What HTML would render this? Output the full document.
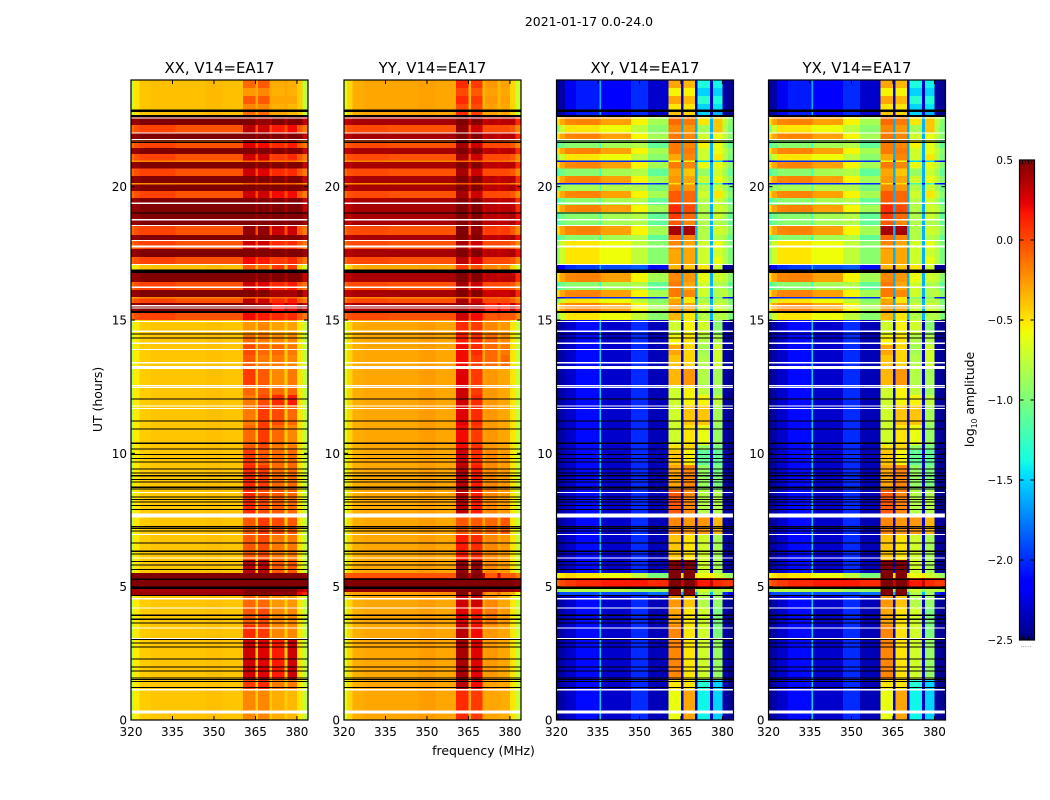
<!DOCTYPE html>
<html>
<head>
<meta charset="utf-8">
<title>2021-01-17 cross-correlation amplitude</title>
<style>
html,body{margin:0;padding:0;background:#fff;}
svg{display:block;font-family:"DejaVu Sans","Liberation Sans",sans-serif;fill:#000;}
.t{font-size:12px;}
.title{font-size:14.9px;text-anchor:middle;}
</style>
</head>
<body>
<svg id="fig" width="1050" height="800" viewBox="0 0 1050 800" xmlns="http://www.w3.org/2000/svg">
<rect width="1050" height="800" fill="#fff"/>
<text x="589" y="26" text-anchor="middle" style="font-size:12.45px">2021-01-17 0.0-24.0</text>
<text x="483.5" y="755" text-anchor="middle" style="font-size:12.45px">frequency (MHz)</text>
<text transform="translate(102,399.5) rotate(-90)" text-anchor="middle" style="font-size:12.45px">UT (hours)</text>
<text transform="translate(974,399.5) rotate(-90)" text-anchor="middle" style="font-size:12.45px">log<tspan dy="3" style="font-size:7.5px">10</tspan><tspan dy="-3"> amplitude</tspan></text>
</svg>
<script>
// Frequency bin edges (MHz), shared by every panel
const freqEdges = [320,321,323,327,335.5,336,347,353,360.5,365,366,370,371,375.5,376.5,380,382,384];
// Tick labels
const xTicks = [320,335,350,365,380];
const yTicks = [0,5,10,15,20];
const cbarTicks = [-2.5,-2,-1.5,-1,-0.5,0,0.5];
// Time-row upper edges (UT hours), top to bottom; last entry is the lower edge
const rowTopUT = [24,23.7,23.4,23.1,22.8,22.65,22.31,22.01,21.75,21.45,21.23,20.98,20.93,20.68,20.4,20.14,20.08,19.84,19.58,19.31,19.05,18.79,18.53,18.19,18,17.66,17.36,17.1,16.8,16.43,16.13,15.86,15.81,15.64,15.3,15,14.44,14.06,13.69,13.28,12.56,12.19,11.81,11.06,10.31,10.13,9.56,8.63,7.69,6.94,6,5.51,5.33,5.21,4.99,4.8,4.65,4.24,3.56,3,1.5,1.16,0];
// Row class per time row: 0 quiet top,1 deep stripe,2 mid stripe,3 thin line,4 bright stripe,5 day,6-8 flare,9 deep alt,10 flare end,11 warm stripe
const kindsParallel = [0,0,0,0,0,1,2,1,2,1,2,3,1,2,1,3,9,2,1,1,9,9,2,9,2,9,2,4,1,2,1,3,2,1,2,5,5,5,5,5,5,5,5,5,5,5,5,5,5,5,5,6,7,7,8,10,5,5,5,5,5,5];
const kindsCross = [0,0,0,0,0,1,11,1,2,1,11,3,1,2,1,3,9,1,2,1,2,2,1,2,11,11,11,4,1,2,1,3,11,1,11,5,5,5,5,5,5,5,5,5,5,5,5,5,5,5,5,6,7,7,8,10,5,5,5,5,5,5];
// Continuum levels per row class: 320-321,321-323,323-327,327-335.5,335.5-336,336-347,347-353,353-360.5,gaps,380-382,382-384
const contXX = [
[-.75,-.5,-.4,-.38,-.38,-.38,-.36,-.38,-.3,-.42,-.75],
[.45,.45,.5,.5,.5,.5,.5,.5,.4,.5,.3],
[-.1,-.02,.02,.02,.02,-.03,-.03,-.03,0,-.05,-.15],
[-.3,-.25,-.2,-.2,-.2,-.2,-.2,-.2,-.15,-.2,-.3],
[-.7,-.5,-.4,-.38,-.38,-.38,-.36,-.38,-.35,-.45,-.7],
[-.75,-.52,-.42,-.4,-.4,-.4,-.38,-.4,-.42,-.5,-.75],
[.5,.5,.5,.5,.5,.5,.5,.5,.5,.5,.45],
[.5,.5,.5,.5,.5,.5,.5,.5,.5,.5,.5],
[.4,.4,.4,.4,.4,.4,.4,.4,.5,.35,.3],
[.45,.45,.5,.5,.5,.5,.5,.5,.45,.5,.4],
[.4,.42,.42,.42,.42,.42,.42,.42,.5,.2,.1]
];
const contYY = [
[-.65,-.45,-.32,-.3,-.3,-.3,-.28,-.3,-.35,-.45,-.7],
[.3,.35,.4,.4,.4,.4,.4,.4,.3,.35,.1],
[-.1,-.02,0,0,0,-.03,-.03,-.03,0,-.05,-.2],
[-.3,-.25,-.2,-.2,-.2,-.2,-.2,-.2,-.15,-.2,-.3],
[-.6,-.45,-.32,-.3,-.3,-.3,-.28,-.3,-.3,-.45,-.7],
[-.65,-.45,-.32,-.3,-.3,-.3,-.27,-.3,-.3,-.5,-.72],
[-.05,-.05,-.03,-.03,-.03,-.03,-.03,-.03,.3,-.05,-.15],
[.5,.5,.5,.5,.5,.5,.5,.5,.5,.5,.45],
[.45,.45,.45,.45,.45,.45,.45,.45,.5,.45,.4],
[.35,.35,.4,.4,.4,.4,.4,.4,.3,.4,.2],
[-.4,-.32,-.28,-.28,-.28,-.28,-.25,-.22,-.1,-.35,-.6]
];
const contXY = [
[-2.45,-2.4,-2.2,-2.05,-1.6,-2.15,-2,-2.3,-2.3,-2.4,-2.45],
[-.5,-.3,-.2,-.18,-.22,-.28,-.55,-.85,-1.6,-.75,-.95],
[-1.2,-1.05,-.95,-.95,-1.2,-.85,-.8,-1.1,-1.6,-.85,-1.1],
[-2.2,-2.1,-2,-2,-2,-2,-2,-2,-2.2,-2,-2.2],
[-2.3,-2.15,-2,-1.95,-1.6,-1.9,-1.85,-2.1,-2.3,-2.4,-2.45],
[-2.45,-2.4,-2.3,-2.1,-1.5,-2.3,-2,-2.35,-2.3,-2.4,-2.45],
[-.6,-.5,-.45,-.5,-.6,-.6,-.75,-1,-.5,-.8,-.9],
[-.1,0,.05,.1,.1,.15,.15,.1,.3,.05,.05],
[-.9,-.85,-.8,-.8,-.8,-.8,-.9,-.9,-1,-.8,-.8],
[-1.05,-.9,-.85,-.85,-1.1,-.8,-.8,-1,-1.6,-.85,-1.05],
[-2,-1.9,-1.9,-1.9,-1.6,-1.9,-1.9,-1.8,-1.6,-2,-2.2],
[-.95,-.7,-.5,-.5,-.6,-.58,-.75,-.95,-1.6,-.8,-1]
];
const contYX = [
[-2.45,-2.4,-2.2,-2.05,-1.6,-2.15,-2,-2.3,-2.3,-2.4,-2.45],
[-.5,-.3,-.2,-.18,-.22,-.28,-.55,-.85,-1.6,-.75,-.95],
[-1.2,-1.05,-.95,-.95,-1.2,-.85,-.8,-1.1,-1.6,-.85,-1.1],
[-2.2,-2.1,-2,-2,-2,-2,-2,-2,-2.2,-2,-2.2],
[-2.3,-2.15,-2,-1.95,-1.6,-1.9,-1.85,-2.1,-2.3,-2.4,-2.45],
[-2.45,-2.4,-2.3,-2.1,-1.5,-2.3,-2,-2.35,-2.3,-2.4,-2.45],
[-.6,-.5,-.45,-.5,-.6,-.6,-.75,-1,-.5,-.8,-.9],
[-.1,0,.05,.1,.1,.15,.15,.1,.3,.05,.05],
[-.9,-.85,-.8,-.8,-.8,-.8,-.9,-.9,-1,-.8,-.8],
[-1.05,-.9,-.85,-.85,-1.1,-.8,-.8,-1,-1.6,-.85,-1.05],
[-2,-1.9,-1.9,-1.9,-1.6,-1.9,-1.9,-1.8,-1.6,-2,-2.2],
[-.95,-.7,-.5,-.5,-.6,-.58,-.75,-.95,-1.6,-.8,-1]
];
// Bright-band levels per time row: 360.5-365, 366-370, 371-375.5, 376.5-380
const bandsXX = [
[-.1,-.05,-.32,-.32],[-.25,-.2,-.33,-.33],[-.05,-.05,-.3,-.3],[-.2,-.2,-.33,-.35],[-.1,-.1,-.3,-.35],
[.5,.45,.5,.5],[.35,.3,.15,.2],[.5,.5,.5,.5],[.25,.2,.1,.15],[.5,.5,.5,.5],[.3,.3,.05,.1],[-.1,-.1,-.15,-.15],
[.5,.5,.5,.5],[.3,.25,.1,.1],[.5,.5,.5,.5],[-.05,-.05,-.1,-.1],[.5,.5,.5,.5],[.3,.3,.2,.2],[.5,.5,.5,.5],[.5,.5,.5,.5],
[.5,.5,.5,.5],[.5,.5,.5,.5],[.45,.45,.3,.3],[.5,.5,.5,.5],[.3,.3,.1,.1],[.5,.5,.5,.5],[.2,.15,.05,.1],[-.05,-.1,.05,.05],
[.5,.5,.5,.5],[.3,.25,.1,.15],[.5,.5,.4,.4],[-.1,-.1,-.1,-.1],[.35,.3,.1,.15],[.45,.4,.2,.25],[.2,.15,.1,.1],
[-.25,-.2,-.28,-.28],[-.1,-.15,-.2,-.2],[0,-.1,-.1,-.15],[-.05,-.15,-.15,-.2],[.05,-.05,-.2,-.15],[-.1,-.05,-.1,-.1],
[-.15,0,.1,.15],[-.15,.05,0,-.1],[-.1,.05,-.1,-.2],[-.05,0,-.15,-.15],[.05,-.05,-.1,-.1],[.1,.05,-.1,-.1],[.1,0,-.05,-.1],
[-.05,.05,0,-.05],[-.05,0,-.15,-.15],[.35,.35,-.05,-.05],[.5,.5,.5,.5],[.5,.5,.5,.5],[.5,.5,.5,.5],[.5,.5,.5,.5],[.5,.5,.45,.45],
[-.1,-.1,-.25,-.25],[-.05,0,-.2,-.2],[.1,.05,-.2,-.2],[.3,.25,.15,.3],[.05,.1,-.15,-.15],[-.2,-.2,-.32,-.35]
];
const bandsYY = [
[.1,.05,-.25,-.28],[0,-.05,-.28,-.3],[.1,.05,-.25,-.28],[0,0,-.28,-.3],[.1,.05,-.28,-.3],
[.5,.5,.35,.35],[.45,.3,0,0],[.5,.5,.35,.35],[.4,.3,0,0],[.5,.5,.35,.35],[.4,.3,0,0],[-.1,-.1,-.15,-.15],
[.5,.5,.35,.35],[.4,.3,0,0],[.5,.5,.35,.35],[-.05,-.05,-.1,-.1],[.5,.5,.35,.35],[.4,.3,0,0],[.5,.5,.35,.35],[.5,.5,.35,.35],
[.5,.5,.35,.35],[.5,.5,.35,.35],[.5,.45,.05,.05],[.5,.5,.35,.35],[.4,.3,0,0],[.5,.5,.35,.35],[.35,.25,0,0],[.05,0,-.2,-.2],
[.5,.5,.35,.35],[.4,.3,0,0],[.5,.5,.3,.3],[-.1,-.1,-.1,-.1],[.4,.3,0,0],[.45,.4,.15,.15],[.3,.2,-.05,-.05],
[.1,.05,-.2,-.25],[.15,.1,-.1,-.2],[.2,.1,-.1,-.15],[.2,.05,-.1,-.1],[.25,.05,-.25,-.3],[.3,.05,-.25,-.3],
[.3,.1,-.25,-.3],[.25,.1,-.25,-.3],[.2,.05,-.25,-.3],[.2,.1,-.25,-.3],[.3,.1,-.2,-.25],[.35,.15,-.2,-.25],[.35,.15,-.2,-.25],
[-.05,-.05,-.1,-.05],[.15,.1,-.2,-.25],[.45,.45,-.2,-.25],[.5,.5,-.05,-.05],[.5,.5,.5,.5],[.5,.5,.5,.5],[.5,.5,.45,.45],[.5,.5,-.25,-.3],
[.3,.3,-.2,-.3],[.25,.15,-.15,-.25],[.35,.2,-.25,-.3],[.4,.25,-.25,-.3],[.35,.2,-.28,-.3],[.1,.05,-.3,-.32]
];
const bandsXY = [
[-.3,-.35,-1.35,-1.4],[-.55,-.55,-1.5,-1.5],[-.3,-.35,-1.3,-1.35],[-.5,-.5,-1.5,-1.45],[-.4,-.45,-1.5,-1.6],
[-.1,-.15,-.5,-.4],[-.2,-.25,-.85,-.4],[-.15,-.2,-.7,-.6],[-.15,-.2,-.55,-.6],[-.15,-.15,-.7,-.6],[-.3,-.2,-.7,-.5],[-.6,-.6,-1.5,-1.5],
[-.15,-.2,-.6,-.6],[-.3,-.4,-.9,-.7],[-.25,-.3,-.7,-.6],[-.5,-.5,-1.2,-1.2],[-.2,-.25,-.8,-.7],[-.05,-.1,-.7,-.5],[-.05,-.1,-.8,-.7],[.1,0,-.8,-.7],
[.05,-.1,-.8,-.7],[-.05,-.2,-.8,-.8],[.4,.4,-.8,-.7],[-.1,-.2,-.8,-.8],[-.2,-.3,-.7,-.6],[-.3,-.3,-.7,-.7],[-.3,-.3,-.7,-.6],[-.35,-.4,-.5,-.7],
[-.2,-.25,-.6,-.7],[-.15,-.3,-.7,-.8],[-.15,-.2,-.7,-.8],[-.5,-.5,-1,-1],[-.3,-.5,-.8,-.8],[-.25,-.3,-.7,-.7],[-.35,-.5,-.8,-.8],
[-.7,-.55,-.7,-.95],[-.55,-.5,-.8,-.8],[-.3,-.45,-.85,-.7],[-.4,-.45,-.8,-.7],[-.35,-.25,-.8,-.85],[-.7,-.55,-.75,-.9],
[-.7,-.55,-.55,-.75],[-.7,-.4,-.4,-.85],[-.7,-.5,-.6,-.9],[-.5,-.45,-.9,-1],[-.4,-.55,-1.1,-1.1],[-.3,-.2,-.9,-1],[-.05,-.2,-.8,-.8],
[-.2,-.25,-.25,-.35],[-.4,-.5,-.7,-.85],[.5,.5,-.7,-.85],[.5,.5,-.6,-.7],[.5,.5,.1,.1],[.5,.5,.15,.1],[.5,.5,-.7,-.8],[.5,.5,-.8,-.85],
[-.25,-.4,-.8,-.9],[-.3,-.5,-.7,-1],[-.2,-.5,-.7,-1],[-.2,-.5,-.7,-.9],[-.5,-.5,-1.3,-1.5],[-.6,-.3,-1.4,-1.5]
];
const bandsYX = [
[-.3,-.35,-1.35,-1.4],[-.55,-.55,-1.5,-1.5],[-.3,-.35,-1.3,-1.35],[-.5,-.5,-1.5,-1.45],[-.4,-.45,-1.5,-1.6],
[-.1,-.15,-.5,-.4],[-.2,-.25,-.85,-.4],[-.15,-.2,-.7,-.6],[-.15,-.2,-.55,-.6],[-.15,-.15,-.7,-.6],[-.3,-.2,-.7,-.5],[-.6,-.6,-1.5,-1.5],
[-.15,-.2,-.6,-.6],[-.3,-.4,-.9,-.7],[-.25,-.3,-.7,-.6],[-.5,-.5,-1.2,-1.2],[-.2,-.25,-.8,-.7],[-.05,-.1,-.7,-.5],[-.05,-.1,-.8,-.7],[.1,0,-.8,-.7],
[.05,-.1,-.8,-.7],[-.05,-.2,-.8,-.8],[.4,.4,-.8,-.7],[-.1,-.2,-.8,-.8],[-.2,-.3,-.7,-.6],[-.3,-.3,-.7,-.7],[-.3,-.3,-.7,-.6],[-.35,-.4,-.5,-.7],
[-.2,-.25,-.6,-.7],[-.15,-.3,-.7,-.8],[-.15,-.2,-.7,-.8],[-.5,-.5,-1,-1],[-.3,-.5,-.8,-.8],[-.25,-.3,-.7,-.7],[-.35,-.5,-.8,-.8],
[-.7,-.55,-.7,-.95],[-.55,-.5,-.8,-.8],[-.3,-.45,-.85,-.7],[-.4,-.45,-.8,-.7],[-.35,-.25,-.8,-.85],[-.7,-.55,-.75,-.9],
[-.7,-.55,-.55,-.75],[-.7,-.4,-.4,-.85],[-.7,-.5,-.6,-.9],[-.5,-.45,-.9,-1],[-.4,-.55,-1.1,-1.1],[-.3,-.2,-.9,-1],[-.05,-.2,-.8,-.8],
[-.2,-.25,-.25,-.35],[-.4,-.5,-.7,-.85],[.5,.5,-.7,-.85],[.5,.5,-.6,-.7],[.5,.5,.1,.1],[.5,.5,.15,.1],[.5,.5,-.7,-.8],[.5,.5,-.8,-.85],
[-.25,-.4,-.8,-.9],[-.3,-.5,-.7,-1],[-.2,-.5,-.7,-1],[-.2,-.5,-.7,-.9],[-.5,-.5,-1.3,-1.5],[-.6,-.3,-1.4,-1.5]
];
// Flagged integrations (UT hours)
const blackFlagUT = [22.9,22.85,22.69,22.65,21.73,21.68,19.03,16.89,16.85,16.81,15.34,15.3,14.5,14.35,12.06,11.24,10.94,10.4,10.19,9.97,9.83,9.7,9.43,9.28,9.18,9.04,8.94,8.75,8.68,8.39,8.29,8.19,8.06,7.91,7.27,7.21,7.11,6.66,6.35,6.25,5.97,5.84,5.67,5.3,5,4.96,4.69,3.95,3.8,3.66,3.04,2.91,2.76,2.31,2.01,1.86,1.59,1.54,1.46,1.24];
const whiteFlagUT = [22.6,22.04,21.79,19.4,18.78,18.57,18,17.8,17.76,17.1,16.25,15.56,15.47,14.97,14.6,14.15,13.92,13.42,13.28,13.24,13.2,12.57,12.5,11.8,11.7,8.55,7.74,7.7,7.67,7.63,6.98,6.1,4.57,4.22,3.47,3.08,1.16,0.36,0.33,0.29];

const panelNames = ['XX','YY','XY','YX'];
const panelTitles = ['XX, V14=EA17','YY, V14=EA17','XY, V14=EA17','YX, V14=EA17'];
const panelLeft = [131,344,556.5,768.5];
const panelWidth = 177;
const plotTop = 80, plotBottom = 720;
const panelData = [
  {cont:contXX,bands:bandsXX,kinds:kindsParallel},
  {cont:contYY,bands:bandsYY,kinds:kindsParallel},
  {cont:contXY,bands:bandsXY,kinds:kindsCross},
  {cont:contYX,bands:bandsYX,kinds:kindsCross}
];
const NS = 'http://www.w3.org/2000/svg';
const fig = document.getElementById('fig');
function node(tag, parent){const n=document.createElementNS(NS,tag);parent.appendChild(n);return n;}
function lerpSeg(seg,t){for(let i=1;i<seg.length;i++){if(t<=seg[i][0]){const a=seg[i-1],b=seg[i];return a[1]+(b[1]-a[1])*(t-a[0])/(b[0]-a[0]);}}return seg[seg.length-1][1];}
const jetR=[[0,0],[.35,0],[.66,1],[.89,1],[1,.5]],jetG=[[0,0],[.125,0],[.375,1],[.64,1],[.91,0],[1,0]],jetB=[[0,.5],[.11,1],[.34,1],[.65,0],[1,0]];
function colorOf(v){const t=Math.max(0,Math.min(1,(v+2.5)/3));return 'rgb('+Math.round(255*lerpSeg(jetR,t))+','+Math.round(255*lerpSeg(jetG,t))+','+Math.round(255*lerpSeg(jetB,t))+')';}
function yOf(h){return plotBottom-(h/24)*(plotBottom-plotTop);}
function xOf(left,f){return left+((f-320)/64)*panelWidth;}
function cellValue(d,row,band){
  const c=d.cont[d.kinds[row]],g=d.bands[row];
  if(band<8)return c[band];
  if(band===8)return g[0];
  if(band===9||band===11||band===13)return c[8];
  if(band===10)return g[1];
  if(band===12)return g[2];
  if(band===14)return g[3];
  return c[band-6];
}
panelNames.forEach(function(name,p){
  const left=panelLeft[p],d=panelData[p];
  const lc=name.toLowerCase();
  const g=node('g',fig);
  
  
  g.setAttribute('shape-rendering','crispEdges');
  for(let r=0;r<rowTopUT.length-1;r++){
    const y0=yOf(rowTopUT[r]),y1=yOf(rowTopUT[r+1]);
    for(let b=0;b<freqEdges.length-1;b++){
      const x0=xOf(left,freqEdges[b]),x1=xOf(left,freqEdges[b+1]);
      const c=node('rect',g);
      
      
      c.setAttribute('x',x0.toFixed(2));
      c.setAttribute('y',y0.toFixed(2));
      c.setAttribute('width',(x1-x0).toFixed(2));
      c.setAttribute('height',(y1-y0).toFixed(2));
      c.setAttribute('fill',colorOf(cellValue(d,r,b)));
    }
  }
  blackFlagUT.forEach(function(h){
    const f=node('rect',g);
    
    
    f.setAttribute('x',left);
    f.setAttribute('y',yOf(h).toFixed(2));
    f.setAttribute('width',panelWidth);
    f.setAttribute('height',1.1);
    f.setAttribute('fill','#000');
  });
  whiteFlagUT.forEach(function(h){
    const f=node('rect',g);
    
    
    f.setAttribute('x',left);
    f.setAttribute('y',yOf(h).toFixed(2));
    f.setAttribute('width',panelWidth);
    f.setAttribute('height',1.2);
    f.setAttribute('fill','#fff');
  });
  const ax=node('g',fig);
  
  
  const frame=node('rect',ax);
  
  
  frame.setAttribute('x',left);
  frame.setAttribute('y',plotTop);
  frame.setAttribute('width',panelWidth);
  frame.setAttribute('height',plotBottom-plotTop);
  frame.setAttribute('fill','none');
  frame.setAttribute('stroke','#000');
  frame.setAttribute('stroke-width','1.2');
  xTicks.forEach(function(v){
    const x=xOf(left,v);
    [[plotBottom,plotBottom-4],[plotTop,plotTop+4]].forEach(function(e){
      const t=node('line',ax);
      
      
      t.setAttribute('x1',x);t.setAttribute('x2',x);
      t.setAttribute('y1',e[0]);t.setAttribute('y2',e[1]);
      t.setAttribute('stroke','#000');
    });
    const l=node('text',ax);
    
    
    l.setAttribute('class','t');
    l.setAttribute('x',x);
    l.setAttribute('y',736);
    l.setAttribute('text-anchor','middle');
    l.textContent=v;
  });
  yTicks.forEach(function(v){
    const y=yOf(v);
    [[left,left+4],[left+panelWidth,left+panelWidth-4]].forEach(function(e){
      const t=node('line',ax);
      
      
      t.setAttribute('x1',e[0]);t.setAttribute('x2',e[1]);
      t.setAttribute('y1',y);t.setAttribute('y2',y);
      t.setAttribute('stroke','#000');
    });
    const l=node('text',ax);
    
    
    l.setAttribute('class','t');
    l.setAttribute('x',left-4);
    l.setAttribute('y',y+4.5);
    l.setAttribute('text-anchor','end');
    l.textContent=v;
  });
  const ti=node('text',ax);
  
  
  ti.setAttribute('class','title');
  ti.setAttribute('x',left+panelWidth/2);
  ti.setAttribute('y',73);
  ti.textContent=panelTitles[p];
});
// Colorbar
const cbX=1019.5,cbW=15,cbTop=160,cbBottom=640;
function cbY(v){return cbBottom-((v+2.5)/3)*(cbBottom-cbTop);}
const cb=node('g',fig);


const cbSteps=240;
for(let i=0;i<cbSteps;i++){
  const v0=-2.5+3*i/cbSteps,v1=-2.5+3*(i+1)/cbSteps;
  const s=node('rect',cb);
  
  
  s.setAttribute('x',cbX);
  s.setAttribute('y',cbY(v1));
  s.setAttribute('width',cbW);
  s.setAttribute('height',cbY(v0)-cbY(v1)+0.3);
  s.setAttribute('fill',colorOf((v0+v1)/2));
}
const cbFrame=node('rect',cb);


cbFrame.setAttribute('x',cbX);
cbFrame.setAttribute('y',cbTop);
cbFrame.setAttribute('width',cbW);
cbFrame.setAttribute('height',cbBottom-cbTop);
cbFrame.setAttribute('fill','none');
cbFrame.setAttribute('stroke','#000');
cbFrame.setAttribute('stroke-width','1.2');
cbarTicks.forEach(function(v){
  const y=cbY(v);
  [[cbX,cbX+4],[cbX+cbW,cbX+cbW-4]].forEach(function(e){
    const t=node('line',cb);
    
    
    t.setAttribute('x1',e[0]);t.setAttribute('x2',e[1]);
    t.setAttribute('y1',y);t.setAttribute('y2',y);
    t.setAttribute('stroke','#000');
  });
  const l=node('text',cb);
  
  
  l.setAttribute('x',1013);
  l.setAttribute('y',y+4);
  l.setAttribute('text-anchor','end');
  l.setAttribute('style','font-size:10.5px');
  l.textContent=v.toFixed(1).replace('-','\u2212');
});
for(let i=0;i<6;i++){
  const x=cbX+i*cbW/5;
  [[cbTop,cbTop+4],[cbBottom,cbBottom-4]].forEach(function(e){
    const t=node('line',cb);
    
    
    t.setAttribute('x1',x);t.setAttribute('x2',x);
    t.setAttribute('y1',e[0]);t.setAttribute('y2',e[1]);
    t.setAttribute('stroke','#000');
  });
}
const dots=node('text',cb);


dots.setAttribute('x',1026);
dots.setAttribute('y',647);
dots.setAttribute('text-anchor','middle');
dots.setAttribute('fill','#777');
dots.setAttribute('style','font-size:6px;letter-spacing:-0.2px');
dots.textContent='......';
</script>
</body>
</html>
